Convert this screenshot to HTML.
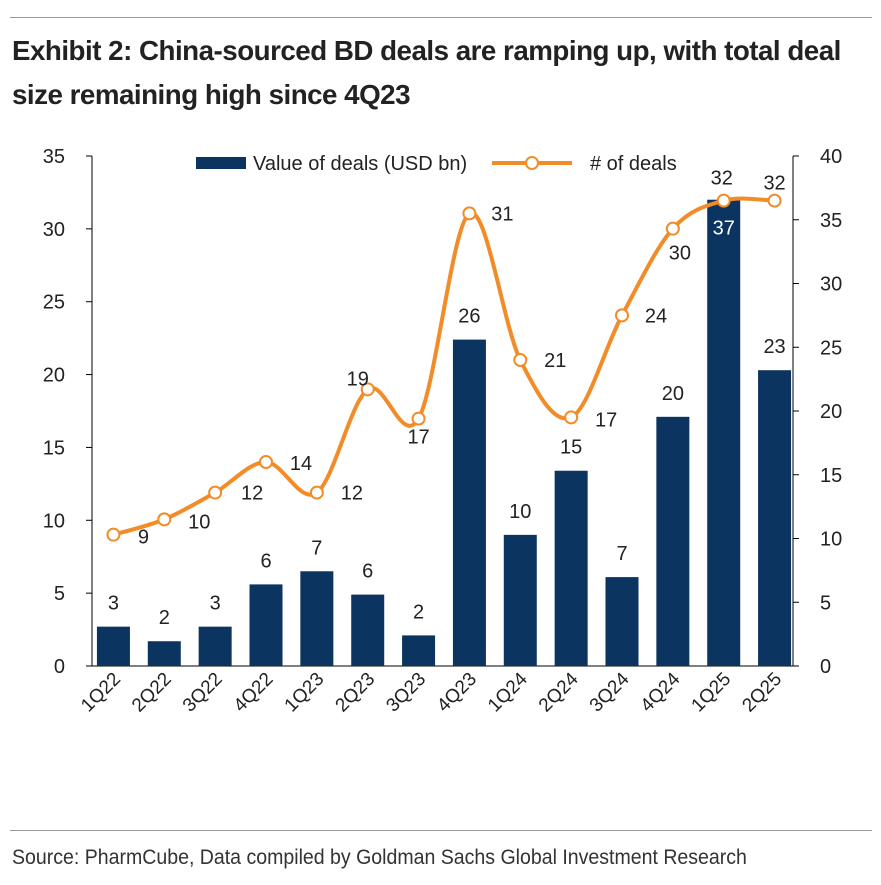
<!DOCTYPE html>
<html><head><meta charset="utf-8"><style>
body{margin:0;background:#fff;width:881px;height:885px;overflow:hidden;font-family:"Liberation Sans",sans-serif;}
#title{position:absolute;left:12px;top:29px;font-size:28px;font-weight:bold;line-height:44px;color:#222;letter-spacing:-0.5px;white-space:nowrap;transform:scaleX(0.99);transform-origin:left top}
.rule{position:absolute;left:10px;width:862px;height:1px;background:#999}
#src{position:absolute;left:12px;top:846px;font-size:21px;color:#333;transform:scaleX(0.93);transform-origin:left top;white-space:nowrap}
svg{position:absolute;left:0;top:0}
</style></head><body>
<div class="rule" style="top:17px"></div>
<div id="title">Exhibit 2: China-sourced BD deals are ramping up, with total deal<br>size remaining high since 4Q23</div>
<svg id="chart" width="881" height="885"></svg>
<div class="rule" style="top:830px"></div>
<div id="src">Source: PharmCube, Data compiled by Goldman Sachs Global Investment Research</div>
<script>
const categories=["1Q22","2Q22","3Q22","4Q22","1Q23","2Q23","3Q23","4Q23","1Q24","2Q24","3Q24","4Q24","1Q25","2Q25"];
const barValues=[2.7,1.7,2.7,5.6,6.5,4.9,2.1,22.4,9.0,13.4,6.1,17.1,32,20.3];
const barLabels=["3","2","3","6","7","6","2","26","10","15","7","20","37","23"];
const lineValues=[10.3,11.5,13.6,16.0,13.6,21.7,19.4,35.5,24.0,19.5,27.5,34.3,36.5,36.5];
const lineLabels=["9","10","12","14","12","19","17","31","21","17","24","30","32","32"];
const leftTicks=[0,5,10,15,20,25,30,35];
const rightTicks=[0,5,10,15,20,25,30,35,40];
const lblOff=[[30,2],[35,2],[37,0],[35,1],[35,0],[-10,-11],[0,18],[33,0],[35,0],[35,2],[34,0],[7,24],[-2,-23],[0,-18]];
const svg=document.getElementById('chart');const NS="http://www.w3.org/2000/svg";
const X0=88,X1=800,Y0=666,YT=156;
const step=(X1-X0)/categories.length;
const xc=i=>X0+step*(i+0.5);
const yL=v=>Y0-(Y0-YT)*v/35;
const yR=v=>Y0-(Y0-YT)*v/40;
function el(t,a,txt){const e=document.createElementNS(NS,t);for(const k in a)e.setAttribute(k,a[k]);if(txt!==undefined)e.textContent=txt;svg.appendChild(e);return e;}
let e;
e=el('line',{x1:92,y1:YT,x2:92,y2:Y0,stroke:'#000','stroke-width':1});


e=el('line',{x1:793,y1:YT,x2:793,y2:Y0,stroke:'#000','stroke-width':1});


e=el('line',{x1:92,y1:Y0,x2:793,y2:Y0,stroke:'#000','stroke-width':1});


leftTicks.forEach(v=>{
 el('line',{x1:86,y1:yL(v),x2:92,y2:yL(v),stroke:'#000'});
 e=el('text',{x:65,y:yL(v)+7,'text-anchor':'end','font-size':20,fill:'#222'},v);
 
 
});
rightTicks.forEach(v=>{
 el('line',{x1:793,y1:yR(v),x2:799,y2:yR(v),stroke:'#000'});
 e=el('text',{x:820,y:yR(v)+7,'text-anchor':'start','font-size':20,fill:'#222'},v);
 
 
});
categories.forEach((c,i)=>{
 const bw=33,y=yL(barValues[i]);
 e=el('rect',{x:xc(i)-bw/2,y:y,width:bw,height:Y0-y,fill:'#0b3460'});
 
 
 const inside=i===12;
 e=el('text',{x:xc(i),y:inside?y+35:y-17,'text-anchor':'middle','font-size':20,fill:inside?'#fff':'#222'},barLabels[i]);
 
 
 e=el('text',{x:xc(i)+8,y:Y0+14,'text-anchor':'end','font-size':19,fill:'#222',transform:`rotate(-45 ${xc(i)+8} ${Y0+14})`},c);
 
 
});
const pts=lineValues.map((v,i)=>[xc(i),yR(v)]);
let d=`M${pts[0][0]},${pts[0][1]}`;
for(let i=0;i<pts.length-1;i++){
 const p0=pts[Math.max(0,i-1)],p1=pts[i],p2=pts[i+1],p3=pts[Math.min(pts.length-1,i+2)];
 const c1=[p1[0]+(p2[0]-p0[0])/6,p1[1]+(p2[1]-p0[1])/6],c2=[p2[0]-(p3[0]-p1[0])/6,p2[1]-(p3[1]-p1[1])/6];
 d+=` C${c1[0]},${c1[1]} ${c2[0]},${c2[1]} ${p2[0]},${p2[1]}`;
}
e=el('path',{d:d,fill:'none',stroke:'#f28c28','stroke-width':4});


pts.forEach((p,i)=>{
 e=el('circle',{cx:p[0],cy:p[1],r:6,fill:'#fff',stroke:'#f28c28','stroke-width':2});
 
 
 e=el('text',{x:p[0]+lblOff[i][0],y:p[1]+lblOff[i][1]+7,'text-anchor':'middle','font-size':20,fill:'#222'},lineLabels[i]);
 
 
});
e=el('rect',{x:196,y:157,width:50,height:12,fill:'#0b3460'});


e=el('text',{x:253,y:170,'font-size':20,fill:'#222'},'Value of deals (USD bn)');


e=el('line',{x1:492,y1:163,x2:572,y2:163,stroke:'#f28c28','stroke-width':4});


e=el('circle',{cx:532,cy:163,r:6,fill:'#fff',stroke:'#f28c28','stroke-width':2});


e=el('text',{x:590,y:170,'font-size':20,fill:'#222'},'# of deals');


</script>
</body></html>
